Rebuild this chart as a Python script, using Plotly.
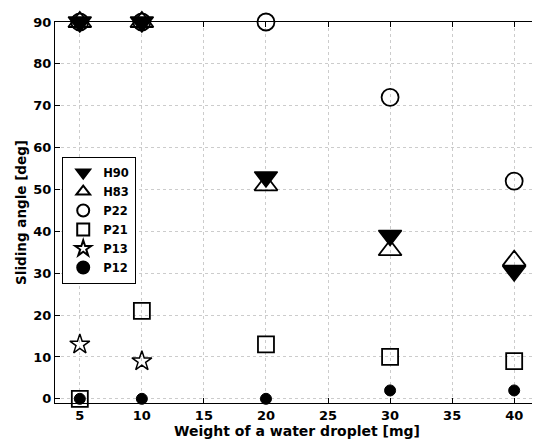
import plotly.graph_objects as go

weights = [5, 10, 20, 30, 40]
h90 = [90, 90, 53, 39, 30.5]
h83 = [90, 90, 51, 35.5, 33]
p22 = [90, 90, 90, 72, 52]
p21 = [0, 21, 13, 10, 9]
p13_x = [5, 10]
p13 = [13, 9]
p12 = [0, 0, 0, 2, 2]

x_ticks = [5, 10, 15, 20, 25, 30, 35, 40]
y_ticks = [0, 10, 20, 30, 40, 50, 60, 70, 80, 90]

FONT = "DejaVu Sans"
blk = "black"

fig = go.Figure()
series = [
    ("H90", weights, h90, "triangle-down", 20, 1.5),
    ("H83", weights, h83, "triangle-up-open", 20, 1.8),
    ("P22", weights, p22, "circle-open", 17, 1.8),
    ("P21", weights, p21, "square-open", 16, 1.8),
    ("P13", p13_x, p13, "star-open", 15, 1.5),
    ("P12", weights, p12, "circle", 11, 1),
]
for name, xs, ys, sym, sz, lw in series:
    fig.add_trace(go.Scatter(
        x=xs, y=ys, mode="markers", name=name, cliponaxis=False,
        marker=dict(symbol=sym, size=sz, color=blk, line=dict(color=blk, width=lw)),
    ))

axis_common = dict(
    showline=True, linecolor=blk, linewidth=1.2, mirror="ticks",
    ticks="inside", ticklen=5, tickcolor=blk,
    showgrid=True, gridcolor="#cccccc", griddash="dot", gridwidth=1,
    zeroline=False, automargin=False,
    tickfont=dict(family=FONT, size=13, color=blk, weight="bold"),
)

# page body has an 8px margin, so the figure is sized/offset to fit 540x442
fig.update_layout(
    width=532, height=434,
    margin=dict(l=47, r=1, t=14, b=39),
    paper_bgcolor="white", plot_bgcolor="white",
    font=dict(family=FONT, color=blk),
    xaxis=dict(range=[3, 42], tickvals=x_ticks,
               title=dict(text="Weight of a water droplet [mg]", standoff=3,
                          font=dict(family=FONT, size=14, color=blk, weight="bold")),
               **axis_common),
    yaxis=dict(range=[-1, 90], tickvals=y_ticks,
               title=dict(text="Sliding angle [deg]", standoff=3,
                          font=dict(family=FONT, size=13.5, color=blk, weight="bold")),
               **axis_common),
    legend=dict(x=0.0145, y=0.646, xanchor="left", yanchor="top",
                bgcolor="white", bordercolor=blk, borderwidth=1.2,
                font=dict(family=FONT, size=11.5, color=blk, weight="bold"),
                tracegroupgap=0, itemsizing="constant"),
    showlegend=True,
)

fig.write_html("out.html")
